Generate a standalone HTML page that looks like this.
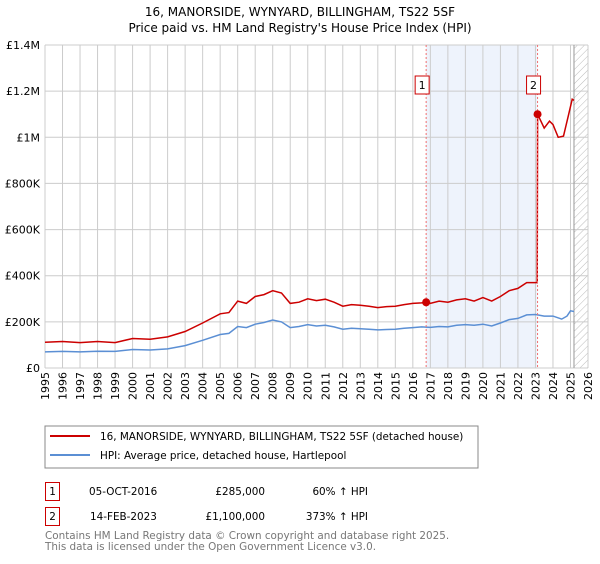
<!DOCTYPE html>
<html><head><meta charset="utf-8"><style>
body{margin:0;background:#fff;font-family:"DejaVu Sans","Liberation Sans",sans-serif;}
svg text{font-family:"DejaVu Sans","Liberation Sans",sans-serif;}
</style></head><body>
<svg id="c" width="600" height="560" xmlns="http://www.w3.org/2000/svg">
<defs><pattern id="hatch" width="5" height="5" patternUnits="userSpaceOnUse" patternTransform="rotate(45)"><line x1="0" y1="0" x2="0" y2="5" stroke="#bbb" stroke-width="1"/></pattern></defs>
<text x="300" y="16" text-anchor="middle" font-size="12">16, MANORSIDE, WYNYARD, BILLINGHAM, TS22 5SF</text>
<text x="300" y="32" text-anchor="middle" font-size="12">Price paid vs. HM Land Registry's House Price Index (HPI)</text>
<g id="plot"></g>
<rect x="45" y="426" width="433" height="42" fill="#fff" stroke="#888"/>
<line x1="50" y1="436" x2="90" y2="436" stroke="#cc0000" stroke-width="2"/>
<text x="100" y="440" font-size="10.4">16, MANORSIDE, WYNYARD, BILLINGHAM, TS22 5SF (detached house)</text>
<line x1="50" y1="455" x2="90" y2="455" stroke="#5b8fd4" stroke-width="2"/>
<text x="100" y="459" font-size="10.4">HPI: Average price, detached house, Hartlepool</text>
<g>
<rect x="45.5" y="482.5" width="14" height="18" fill="#fff" stroke="#cc0000"/>
<text x="52.5" y="495" font-size="10.4" text-anchor="middle">1</text>
<text x="89" y="495" font-size="10.4">05-OCT-2016</text>
<text x="265" y="495" font-size="10.4" text-anchor="end">£285,000</text>
<text x="368" y="495" font-size="10.4" text-anchor="end">60% ↑ HPI</text></g>
<g>
<rect x="45.5" y="507.5" width="14" height="18" fill="#fff" stroke="#cc0000"/>
<text x="52.5" y="520" font-size="10.4" text-anchor="middle">2</text>
<text x="90" y="520" font-size="10.4">14-FEB-2023</text>
<text x="265" y="520" font-size="10.4" text-anchor="end">£1,100,000</text>
<text x="368" y="520" font-size="10.4" text-anchor="end">373% ↑ HPI</text></g>
<text x="45" y="539" font-size="10.4" fill="#777">Contains HM Land Registry data © Crown copyright and database right 2025.</text>
<text x="45" y="550" font-size="10.4" fill="#777">This data is licensed under the Open Government Licence v3.0.</text>
</svg>
<script>
const hpiDates=[1995,1996,1997,1998,1999,2000,2001,2002,2003,2004,2005,2005.5,2006,2006.5,2007,2007.5,2008,2008.5,2009,2009.5,2010,2010.5,2011,2011.5,2012,2012.5,2013,2013.5,2014,2014.5,2015,2015.5,2016,2016.5,2017,2017.5,2018,2018.5,2019,2019.5,2020,2020.5,2021,2021.5,2022,2022.5,2023,2023.5,2024,2024.5,2024.8,2025,2025.2];
const hpiValues=[70,72,70,73,72,80,78,83,97,120,145,150,180,175,190,197,208,200,175,180,188,182,185,178,168,172,170,168,165,167,168,172,175,178,176,180,178,185,188,185,190,182,195,210,215,230,232,225,225,212,225,248,245];
const priceDates=[1995,1996,1997,1998,1999,2000,2001,2002,2003,2004,2005,2005.5,2006,2006.5,2007,2007.5,2008,2008.5,2009,2009.5,2010,2010.5,2011,2011.5,2012,2012.5,2013,2013.5,2014,2014.5,2015,2015.5,2016,2016.5,2016.76,2017,2017.5,2018,2018.5,2019,2019.5,2020,2020.5,2021,2021.5,2022,2022.5,2023.1,2023.12,2023.5,2023.8,2024,2024.3,2024.6,2024.9,2025.1,2025.2];
const priceValues=[112,115,110,115,110,128,125,135,158,195,235,240,290,280,310,318,335,325,280,285,300,292,298,285,268,275,272,268,262,266,268,275,280,282,285,280,290,285,295,300,290,305,290,310,335,345,370,370,1100,1040,1070,1055,1000,1005,1100,1165,1160];
const saleDates=[2016.76,2023.12];
const saleValues=[285,1100];
const yTicks=[0,200,400,600,800,1000,1200,1400];
const yTickLabels=["£0","£200K","£400K","£600K","£800K","£1M","£1.2M","£1.4M"];
const NS="http://www.w3.org/2000/svg";
const X0=45,X1=588,Y0=368,Y1=45;
const xs=y=>X0+(y-1995)*(X1-X0)/31;
const ys=v=>Y0-v*(Y0-Y1)/1400;
const g=document.getElementById('plot');
function mk(t,a){const e=document.createElementNS(NS,t);for(const k in a)e.setAttribute(k,a[k]);g.appendChild(e);return e;}
let e=mk('rect',{x:xs(saleDates[0]),y:Y1,width:xs(saleDates[1])-xs(saleDates[0]),height:Y0-Y1,fill:'#eef3fc'});


e=mk('rect',{x:xs(2025.2),y:Y1,width:X1-xs(2025.2),height:Y0-Y1,fill:'url(#hatch)'});


for(let yr=1995;yr<=2026;yr++){
 e=mk('line',{x1:xs(yr),x2:xs(yr),y1:Y1,y2:Y0,stroke:'#ccc'});
 
 
 e=mk('text',{x:0,y:0,'font-size':11,'text-anchor':'end',transform:`translate(${xs(yr)+4},372) rotate(-90)`});
 e.textContent=yr;
 
 
}
yTicks.forEach((v,i)=>{
 e=mk('line',{x1:X0,x2:X1,y1:ys(v),y2:ys(v),stroke:'#ccc'});
 
 
 e=mk('text',{x:40,y:ys(v)+4,'font-size':11,'text-anchor':'end'});
 e.textContent=yTickLabels[i];
 
 
});
e=mk('line',{x1:xs(2025.2),x2:xs(2025.2),y1:Y1,y2:Y0,stroke:'#999'});


function path(d,v){return d.map((x,i)=>(i?'L':'M')+xs(x).toFixed(1)+','+ys(v[i]).toFixed(1)).join('');}
e=mk('path',{d:path(hpiDates,hpiValues),fill:'none',stroke:'#5b8fd4','stroke-width':1.5});


e=mk('path',{d:path(priceDates,priceValues),fill:'none',stroke:'#cc0000','stroke-width':1.5});


saleDates.forEach((d,i)=>{
 e=mk('line',{x1:xs(d),x2:xs(d),y1:Y1,y2:Y0,stroke:'#f07070','stroke-dasharray':'2,2'});
 
 
 e=mk('circle',{cx:xs(d),cy:ys(saleValues[i]),r:4,fill:'#cc0000'});
 
 
 e=mk('rect',{x:xs(d)-11,y:76,width:14,height:18,fill:'#fff',stroke:'#cc0000'});
 
 
 e=mk('text',{x:xs(d)-4,y:89,'font-size':11,'text-anchor':'middle'});
 e.textContent=String(i+1);
 
 
});
</script>
</body></html>
